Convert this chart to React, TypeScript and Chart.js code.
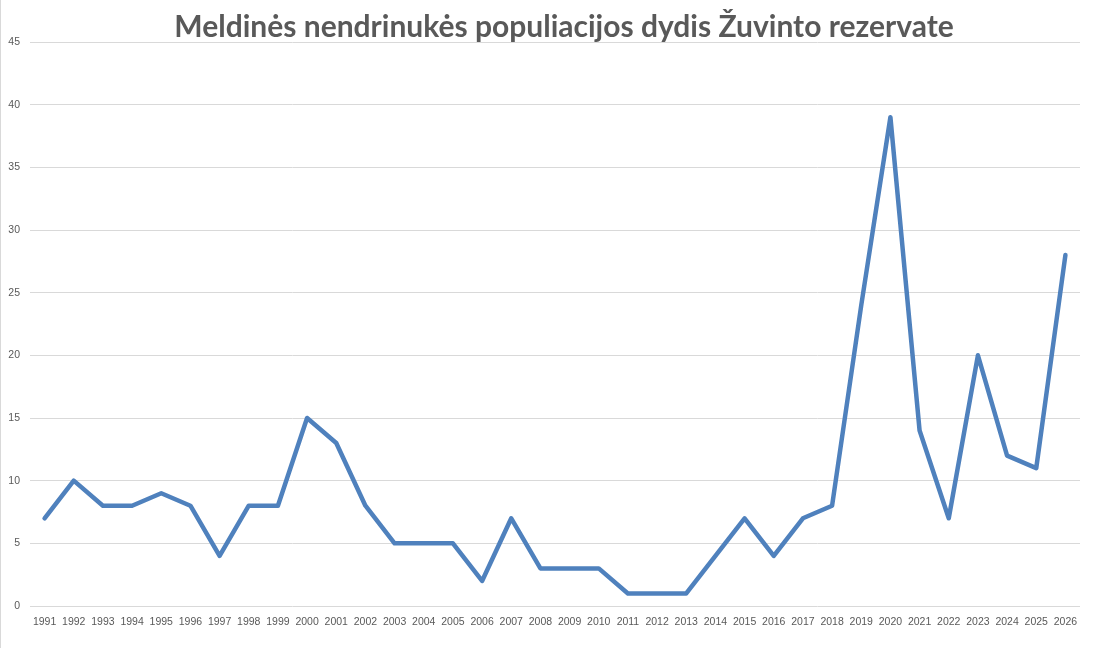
import React, { useEffect, useRef } from "react";
import { Chart, registerables } from "chart.js";

Chart.register(...registerables);

const TITLE = "Meldinės nendrinukės populiacijos dydis Žuvinto rezervate";

const years: string[] = [
  "1991", "1992", "1993", "1994", "1995", "1996", "1997", "1998", "1999", "2000",
  "2001", "2002", "2003", "2004", "2005", "2006", "2007", "2008", "2009", "2010",
  "2011", "2012", "2013", "2014", "2015", "2016", "2017", "2018", "2019", "2020",
  "2021", "2022", "2023", "2024", "2025", "2026",
];

const population: number[] = [
  7, 10, 8, 8, 9, 8, 4, 8, 8, 15,
  13, 8, 5, 5, 5, 2, 7, 3, 3, 3,
  1, 1, 1, 4, 7, 4, 7, 8, 24, 39,
  14, 7, 20, 12, 11, 28,
];

const yMin = 0;
const yMax = 45;
const yStep = 5;

const titlePlugin = {
  id: "offsetTitle",
  afterDraw(chart: any) {
    const ctx = chart.ctx;
    ctx.save();
    ctx.font = "bold 30px Lato";
    ctx.fillStyle = "#595959";
    ctx.textAlign = "center";
    ctx.textBaseline = "alphabetic";
    ctx.fillText(TITLE, 564, 37);
    ctx.restore();
  },
};

export default function App() {
  const ref = useRef<HTMLCanvasElement | null>(null);

  useEffect(() => {
    document.body.style.margin = "0";
    const canvas = ref.current;
    if (!canvas) return;
    const chart = new Chart(canvas, {
      type: "line",
      data: {
        labels: years,
        datasets: [
          {
            label: "Populiacija",
            data: population,
            borderColor: "#4f81bd",
            backgroundColor: "#4f81bd",
            borderWidth: 4.5,
            pointRadius: 0,
            pointHoverRadius: 0,
            tension: 0,
            borderJoinStyle: "round",
            borderCapStyle: "round",
          },
        ],
      },
      options: {
        animation: false,
        responsive: false,
        maintainAspectRatio: false,
        layout: { padding: { top: 42, right: 18, bottom: 0, left: 0 } },
        plugins: {
          legend: { display: false },
          tooltip: { enabled: false },
          title: { display: false },
        },
        scales: {
          x: {
            type: "category",
            offset: true,
            grid: { display: false, drawTicks: false },
            border: { display: false },
            ticks: {
              color: "#595959",
              font: { family: "Liberation Sans", size: 10.5 },
              padding: 10,
              maxRotation: 0,
              minRotation: 0,
              autoSkip: false,
            },
            afterFit: (scale: any) => {
              scale.height = 42;
            },
          },
          y: {
            min: yMin,
            max: yMax,
            grid: { color: "#d9d9d9", lineWidth: 1, drawTicks: false },
            border: { display: false },
            ticks: {
              stepSize: yStep,
              color: "#595959",
              font: { family: "Liberation Sans", size: 10.5 },
              padding: 10,
            },
            afterFit: (scale: any) => {
              scale.width = 30;
            },
          },
        },
      },
      plugins: [titlePlugin],
    });
    return () => chart.destroy();
  }, []);

  return (
    <div style={{ position: "relative", width: 1098, height: 648, background: "#fff" }}>
      <div style={{ position: "absolute", left: 0, top: 0, width: 1, height: 648, background: "#d9d9d9" }} />
      <canvas ref={ref} width={1098} height={648} style={{ display: "block", width: 1098, height: 648 }} />
    </div>
  );
}
